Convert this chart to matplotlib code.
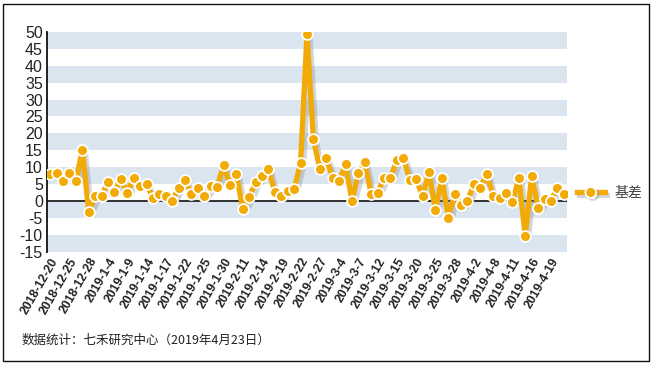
import matplotlib
matplotlib.use("Agg")
import matplotlib.pyplot as plt
import matplotlib.patheffects as pe
from matplotlib.lines import Line2D
from matplotlib.patches import Rectangle

dates = ["2018-12-20", "2018-12-21", "2018-12-24", "2018-12-25", "2018-12-26", "2018-12-27",
         "2018-12-28", "2019-1-2", "2019-1-3", "2019-1-4", "2019-1-7", "2019-1-8", "2019-1-9",
         "2019-1-10", "2019-1-11", "2019-1-14", "2019-1-15", "2019-1-16", "2019-1-17",
         "2019-1-18", "2019-1-21", "2019-1-22", "2019-1-23", "2019-1-24", "2019-1-25",
         "2019-1-28", "2019-1-29", "2019-1-30", "2019-1-31", "2019-2-1", "2019-2-11",
         "2019-2-12", "2019-2-13", "2019-2-14", "2019-2-15", "2019-2-18", "2019-2-19",
         "2019-2-20", "2019-2-21", "2019-2-22", "2019-2-25", "2019-2-26", "2019-2-27",
         "2019-2-28", "2019-3-1", "2019-3-4", "2019-3-5", "2019-3-6", "2019-3-7", "2019-3-8",
         "2019-3-11", "2019-3-12", "2019-3-13", "2019-3-14", "2019-3-15", "2019-3-18",
         "2019-3-19", "2019-3-20", "2019-3-21", "2019-3-22", "2019-3-25", "2019-3-26",
         "2019-3-27", "2019-3-28", "2019-3-29", "2019-4-1", "2019-4-2", "2019-4-3",
         "2019-4-4", "2019-4-8", "2019-4-9", "2019-4-10", "2019-4-11", "2019-4-12",
         "2019-4-15", "2019-4-16", "2019-4-17", "2019-4-18", "2019-4-19", "2019-4-22",
         "2019-4-23"]

basis = [7.9, 8.1, 5.9, 8.3, 5.9, 15.0, -3.2, 1.3, 1.5, 5.5,
         2.7, 6.5, 2.3, 6.9, 4.5, 5.1, 0.7, 1.9, 1.3, 0.0,
         3.9, 6.3, 1.9, 3.7, 1.3, 4.3, 4.1, 10.6, 4.7, 7.9,
         -2.4, 1.1, 5.5, 7.3, 9.4, 2.5, 1.3, 2.9, 3.5, 11.2,
         49.4, 18.2, 9.4, 12.6, 6.7, 5.9, 10.8, 0.1, 8.1, 11.4,
         2.1, 2.3, 6.9, 6.7, 12.2, 12.8, 6.3, 6.5, 1.3, 8.5,
         -2.8, 6.7, -5.0, 1.9, -1.2, 0.0, 4.9, 3.9, 7.9, 1.5,
         0.9, 2.3, -0.2, 6.7, -10.5, 7.5, -2.2, 0.5, 0.1, 3.9,
         1.9]

yticks = list(range(-15, 51, 5))
series_name = "基差"
footer = "数据统计：七禾研究中心（2019年4月23日）"

orange = "#F2AA06"
band = "#DAE5F0"

plt.rcParams['font.family'] = ['Liberation Sans', 'DejaVu Sans']

fig = plt.figure(figsize=(6.53, 3.65), dpi=100)
ax = fig.add_axes([47/653, 1-251.5/365, 520/653, 219.5/365])

x = list(range(len(basis)))
ax.set_xlim(-0.5, len(basis)-0.5)
ax.set_ylim(-15, 50)

# alternating bands
for lo in range(-15, 50, 10):
    ax.axhspan(lo, lo+5, color=band, lw=0, zorder=0)

ax.axhline(0, color="#222222", lw=1.3, zorder=1)

ax.plot(x, basis, color=orange, lw=3.8, solid_joinstyle='round', solid_capstyle='round', zorder=3,
        path_effects=[pe.SimpleLineShadow(offset=(2.2, -2.2), shadow_color='#7f8a99', alpha=0.35),
                      pe.Normal()])
ax.plot(x, basis, ls='none', marker='o', ms=7.8, mfc=orange, mec='white', mew=1.3, zorder=4)

for s in ['top', 'right', 'bottom']:
    ax.spines[s].set_visible(False)
ax.spines['left'].set_color('#111111')
ax.spines['left'].set_linewidth(1.3)

ax.set_yticks(yticks)
ax.set_yticklabels([str(v) for v in yticks], fontsize=11.5, color='#222222')
ax.tick_params(axis='y', length=0, pad=3)

tick_idx = list(range(0, len(dates), 3))
ax.set_xticks(tick_idx)
ax.set_xticklabels([dates[i] for i in tick_idx], rotation=60, ha='right',
                   rotation_mode='anchor', fontsize=8.8, color='#222222', fontweight='bold')
ax.tick_params(axis='x', length=0, pad=3)

handle = Line2D([0], [0], color=orange, lw=3.8, marker='o', ms=7.8, mfc=orange,
                mec='white', mew=1.3,
                path_effects=[pe.SimpleLineShadow(offset=(1.5, -1.5), shadow_color='#7f8a99', alpha=0.35),
                              pe.Normal()])
leg = ax.legend([handle], [series_name], loc='center left', bbox_to_anchor=(0.995, 0.265),
                frameon=False, handlelength=2.0, handletextpad=0.7,
                prop={'family': ['Noto Sans CJK SC', 'DejaVu Sans'], 'size': 10})
for t in leg.get_texts():
    t.set_color('#444444')

fig.text(22/653, 1-340/365, footer, fontsize=9, color='#222222', va='center', ha='left',
         family=['Noto Sans CJK SC', 'DejaVu Sans'])

fig.patches.append(Rectangle((3/653, 1-361/365), 646/653, 357/365, transform=fig.transFigure,
                             fill=False, ec='#111111', lw=1.0))

fig.savefig("out.png", dpi=100)
